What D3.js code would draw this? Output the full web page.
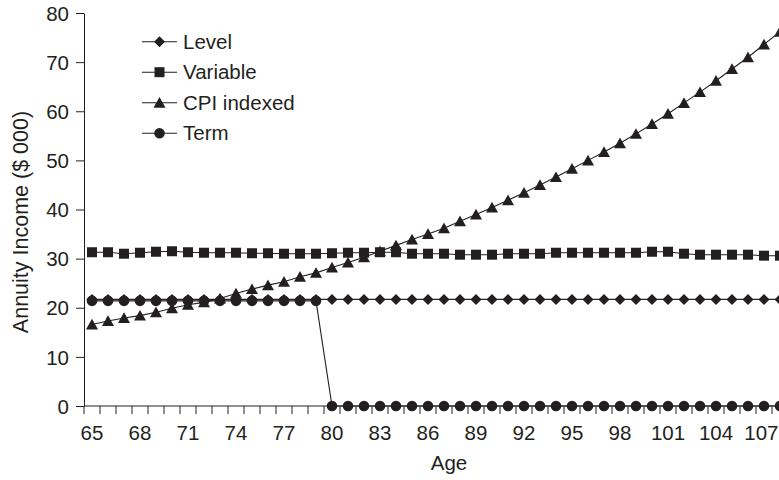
<!DOCTYPE html>
<html><head><meta charset="utf-8">
<script src="https://cdn.jsdelivr.net/npm/d3@7"></script>
<style>body{margin:0;background:#fff}svg{display:block}text{font-family:"Liberation Sans",Arial,sans-serif;fill:#231f20}</style>
</head><body><svg id="c" width="779" height="480"></svg>
<script>
const ages = d3.range(65, 109);
const tickLabels = [65,68,71,74,77,80,83,86,89,92,95,98,101,104,107];
const yTicks = [0,10,20,30,40,50,60,70,80];
const level = ages.map(() => 21.7);
const variable = [31.3,31.3,31.0,31.2,31.4,31.5,31.3,31.2,31.2,31.2,31.1,31.1,31.0,31.0,31.0,31.1,31.2,31.2,31.3,31.3,31.0,31.0,31.0,30.8,30.8,30.8,31.0,31.0,31.0,31.2,31.2,31.2,31.2,31.2,31.2,31.4,31.4,31.0,30.8,30.8,30.8,30.8,30.6,30.6];
const cpi = [16.6,17.3,17.9,18.4,19.1,19.9,20.6,21.1,21.9,22.9,23.8,24.6,25.3,26.3,27.1,28.2,29.2,30.3,31.5,32.7,33.9,35.0,36.2,37.6,39.0,40.4,41.9,43.4,45.0,46.6,48.3,50.0,51.7,53.5,55.4,57.4,59.5,61.7,63.9,66.2,68.6,71.0,73.6,76.2];
const term = ages.map(a => a < 80 ? 21.4 : 0);
const seriesNames = ["Level","Variable","CPI indexed","Term"];
const seriesValues = [level, variable, cpi, term];
const markerTypes = ["diamond","square","triangle","circle"];

const W = 779;
const ink = "#231f20";
const fs = "20.5px";
const svg = d3.select("#c");
const x = d3.scaleBand().domain(ages).range([84, 84 + ages.length * 16]).padding(0);
const y = d3.scaleLinear().domain([0, 80]).range([406, 13]);
const cx = a => x(a) + x.bandwidth() / 2;

function markerPath(type) {
  switch (type) {
    case "diamond": return "M0,-5.5L5.5,0L0,5.5L-5.5,0Z";
    case "square": return "M-5,-5H5V5H-5Z";
    case "triangle": return "M0,-5.7L6,5L-6,5Z";
    case "circle": return "M5.3,0A5.3,5.3 0 1,1 -5.3,0A5.3,5.3 0 1,1 5.3,0Z";
  }
}

// axes
const yAxis = d3.axisLeft(y).tickValues(yTicks).tickSize(8).tickPadding(7).tickSizeOuter(0);
const gy = svg.append("g").attr("transform", "translate(84,0)").call(yAxis);
gy.select(".domain").attr("stroke", ink);
gy.selectAll(".tick line").attr("stroke", ink);
gy.selectAll(".tick text").style("font-size", fs).attr("dy", "0.35em");

const gx = svg.append("g");
gx.append("line").attr("x1", 84).attr("x2", 800).attr("y1", y(0)).attr("y2", y(0)).attr("stroke", ink);
const bounds = ages.map(a => x(a)).concat([x(ages[ages.length-1]) + x.bandwidth()]);
gx.selectAll("line.t").data(bounds).join("line").attr("class","t")
  .attr("x1", d => d).attr("x2", d => d).attr("y1", y(0)).attr("y2", y(0) + 8).attr("stroke", ink);
const xt = gx.selectAll("text").data(tickLabels).join("text")
  .attr("x", d => cx(d)).attr("y", 440).attr("text-anchor", "middle")
  .style("font-size", fs).text(d => d);
// keep labels inside the picture
xt.each(function() {
  const b = this.getBBox();
  if (b.x + b.width > W - 0.5) d3.select(this).attr("x", +d3.select(this).attr("x") - (b.x + b.width - (W - 0.5)));
});

svg.append("text").attr("x", 449).attr("y", 469.5).attr("text-anchor", "middle").style("font-size", fs).text("Age");
svg.append("text").attr("transform", "translate(27.5,222) rotate(-90)").attr("text-anchor", "middle").style("font-size", "21.5px").text("Annuity Income ($ 000)");

// series
const line = d3.line().x((d, i) => cx(ages[i])).y(d => y(d));
seriesValues.forEach((vals, k) => {
  const g = svg.append("g");
  g.append("path").attr("d", line(vals)).attr("fill", "none").attr("stroke", ink).attr("stroke-width", 1.1);
  g.selectAll("path.m").data(vals).join("path").attr("class", "m")
    .attr("d", markerPath(markerTypes[k]))
    .attr("transform", (d, i) => `translate(${cx(ages[i])},${y(d)})`)
    .attr("fill", ink);
});

// legend
const lg = svg.append("g");
seriesNames.forEach((name, k) => {
  const yy = 41.7 + k * 30.5;
  lg.append("line").attr("x1", 142).attr("x2", 177).attr("y1", yy).attr("y2", yy).attr("stroke", ink).attr("stroke-width", 1.1);
  lg.append("path").attr("d", markerPath(markerTypes[k])).attr("transform", `translate(159.5,${yy})`).attr("fill", ink);
  lg.append("text").attr("x", 183).attr("y", yy).attr("dy", "0.35em").style("font-size", fs).text(name);
});
</script></body></html>
